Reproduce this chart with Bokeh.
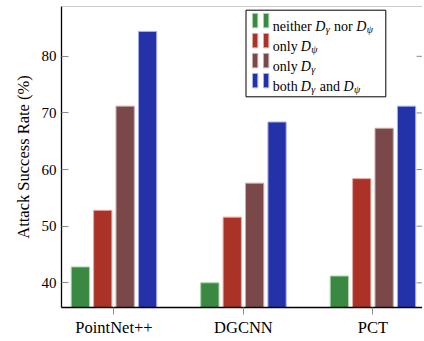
import math
from bokeh.plotting import figure
from bokeh.models import Range1d, FixedTicker, BoxAnnotation, Label, Span
from bokeh.embed import file_html
from bokeh.resources import INLINE

# ---- data ----
models = ["PointNet++", "DGCNN", "PCT"]
neither = [42.8, 40.0, 41.2]
only_psi = [52.8, 51.6, 58.4]
only_gamma = [71.2, 57.6, 67.3]
both = [84.4, 68.4, 71.2]
y_ticks = [40, 50, 60, 70, 80]

series = [neither, only_psi, only_gamma, both]
fills = ["#3a8942", "#aa3226", "#7a4848", "#2432aa"]
edges = ["#a9d3ac", "#e0a9a3", "#c9abab", "#aab0e6"]
legend_rows = [
    [("neither", "normal"), ("D", "italic"), ("γ", "sub"), ("nor", "normal"), ("D", "italic"), ("ψ", "sub")],
    [("only", "normal"), ("D", "italic"), ("ψ", "sub")],
    [("only", "normal"), ("D", "italic"), ("γ", "sub")],
    [("both", "normal"), ("D", "italic"), ("γ", "sub"), ("and", "normal"), ("D", "italic"), ("ψ", "sub")],
]
legend_x = [
    [274.3, 316.7, 327.2, 335.5, 357.8, 368.3],
    [274.3, 302.3, 312.8],
    [274.3, 302.3, 312.8],
    [274.3, 302.3, 312.8, 321.3, 345.0, 355.5],
]

FONT = "Liberation Serif"
OX, OY = 2, 2          # observed page position of the canvas
W, H = 422, 339
FL, FT, FB, FR = 63, 8, 309, 424  # frame edges in picture pixels
X0 = -0.405
X1 = X0 + (FR - FL) / 129.5
Y0, Y1 = 35.64, 88.8

p = figure(width=W, height=H, output_backend="svg", toolbar_location=None,
           x_range=Range1d(X0, X1), y_range=Range1d(Y0, Y1),
           min_border_left=FL - OX, min_border_top=FT - OX, min_border_right=OX + W - FR,
           min_border_bottom=OY + H - FB)
p.background_fill_color = "white"
p.border_fill_color = "white"
p.outline_line_color = None
p.xgrid.visible = False
p.ygrid.visible = False

xs = list(range(len(models)))
pitch = 0.173
bw = 0.141
for k, (vals, fc, ec) in enumerate(zip(series, fills, edges)):
    off = (k - 1.5) * pitch
    p.vbar(x=[x + off for x in xs], top=vals, bottom=0, width=bw,
           fill_color=fc, line_color=ec, line_width=1)

# mirrored ticks on the right edge
p.ray(x=[X1] * len(y_ticks), y=y_ticks, length=6, angle=math.pi, length_units="screen",
      line_color="#8c8c8c", line_width=1)

# x axis
xa = p.xaxis[0]
xa.ticker = FixedTicker(ticks=xs)
xa.major_label_overrides = {i: m for i, m in enumerate(models)}
xa.major_tick_out = 7
xa.major_tick_in = 0
xa.minor_tick_line_color = None
xa.major_tick_line_color = "#8c8c8c"
xa.axis_line_color = "black"
xa.axis_line_width = 1.3
xa.major_label_standoff = 3
xa.major_label_text_font = FONT
xa.major_label_text_font_size = "16.5px"
xa.major_label_text_color = "black"

ya = p.yaxis[0]
ya.ticker = FixedTicker(ticks=y_ticks)
ya.major_tick_in = 7
ya.major_tick_out = 0
ya.minor_tick_line_color = None
ya.major_tick_line_color = "#8c8c8c"
ya.axis_line_color = "black"
ya.axis_line_width = 1.3
ya.major_label_standoff = 5
ya.major_label_text_font = FONT
ya.major_label_text_font_size = "15px"
ya.major_label_text_color = "black"
ya.axis_label = "Attack Success Rate (%)"
ya.axis_label_text_font = FONT
ya.axis_label_text_font_size = "16.5px"
ya.axis_label_text_font_style = "normal"
ya.axis_label_text_color = "black"
ya.axis_label_standoff = 6

p.add_layout(Span(location=Y1, dimension="width", line_color="#999999", line_width=1))


def sx(ix):
    return ix - FL


def sy(iy):
    return FB - iy


# legend frame
p.add_layout(BoxAnnotation(left=sx(247.5), right=sx(387.3), top=sy(11.7), bottom=sy(98.3),
                           left_units="screen", right_units="screen",
                           top_units="screen", bottom_units="screen",
                           fill_color="white", fill_alpha=1.0,
                           line_color="black", line_width=1, line_alpha=1.0))

for i, (fc, ec) in enumerate(zip(fills, edges)):
    top_i = 15.0 + 20 * i
    bot_i = 29.3 + 20 * i
    for lx in (254.0, 265.0):
        p.add_layout(BoxAnnotation(left=sx(lx), right=sx(lx + 5.3), top=sy(top_i), bottom=sy(bot_i),
                                   left_units="screen", right_units="screen",
                                   top_units="screen", bottom_units="screen",
                                   fill_color=fc, fill_alpha=1.0,
                                   line_color=ec, line_width=1, line_alpha=1.0))
    base = 28.3 + 20 * i
    for (txt, style), lx in zip(legend_rows[i], legend_x[i]):
        if style == "sub":
            lab = Label(x=sx(lx), y=sy(base + 3.0), x_units="screen", y_units="screen",
                        text=txt, text_font=FONT, text_font_size="10px",
                        text_font_style="italic", text_baseline="alphabetic",
                        text_align="left", text_color="black")
        else:
            lab = Label(x=sx(lx), y=sy(base), x_units="screen", y_units="screen",
                        text=txt, text_font=FONT, text_font_size="14px",
                        text_font_style=style, text_baseline="alphabetic",
                        text_align="left", text_color="black")
        p.add_layout(lab)

open("out.html", "w").write(file_html(p, INLINE))
